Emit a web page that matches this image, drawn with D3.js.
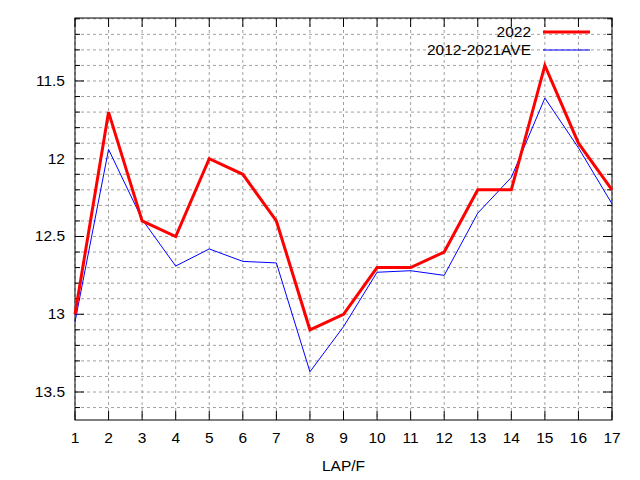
<!DOCTYPE html><html><head><script src="https://cdn.jsdelivr.net/npm/d3@7"></script>
<style>body{margin:0;background:#fff}</style></head><body><svg id="c" width="640" height="480"></svg>
<script>
const laps=[1,2,3,4,5,6,7,8,9,10,11,12,13,14,15,16,17];
const s2022=[13.0,11.7,12.4,12.5,12.0,12.1,12.4,13.1,13.0,12.7,12.7,12.6,12.2,12.2,11.4,11.9,12.2];
const sAve=[13.05,11.94,12.39,12.69,12.58,12.66,12.67,13.37,13.08,12.73,12.72,12.75,12.35,12.12,11.61,11.93,12.29];
const yTicks=[11.5,12,12.5,13,13.5];
const svg=d3.select("#c"),L=75,R=612,T=18,B=420;
const x=d3.scaleLinear().domain([1,17]).range([L,R]);
const y=d3.scaleLinear().domain([11.095,13.68]).range([T,B]);
const font="Liberation Sans, Arial, sans-serif",fs=15.5;
const minor=d3.range(111,137).map(v=>v/10);
const g=svg.append("g").attr("stroke","#a0a0a0").attr("stroke-dasharray","3,3").attr("stroke-width",1);
minor.forEach(v=>g.append("line").attr("x1",L).attr("x2",R).attr("y1",y(v)).attr("y2",y(v)));
laps.forEach(v=>g.append("line").attr("x1",x(v)).attr("x2",x(v)).attr("y1",T).attr("y2",B));
const t=svg.append("g").attr("stroke","#000");
minor.forEach(v=>{const len=yTicks.some(k=>Math.abs(k-v)<1e-6)?9:5;
 t.append("line").attr("x1",L).attr("x2",L+len).attr("y1",y(v)).attr("y2",y(v));
 t.append("line").attr("x1",R).attr("x2",R-len).attr("y1",y(v)).attr("y2",y(v));});
laps.forEach(v=>{t.append("line").attr("x1",x(v)).attr("x2",x(v)).attr("y1",B).attr("y2",B-9);
 t.append("line").attr("x1",x(v)).attr("x2",x(v)).attr("y1",T).attr("y2",T+9);});
svg.append("rect").attr("x",L).attr("y",T).attr("width",R-L).attr("height",B-T).attr("fill","none").attr("stroke","#000");
yTicks.forEach(v=>svg.append("text").attr("x",L-10).attr("y",y(v)+5).attr("text-anchor","end").attr("font-family",font).attr("font-size",fs).text(v));
laps.forEach(v=>svg.append("text").attr("x",x(v)).attr("y",443).attr("text-anchor","middle").attr("font-family",font).attr("font-size",fs).text(v));
svg.append("text").attr("x",(L+R)/2).attr("y",471).attr("text-anchor","middle").attr("font-family",font).attr("font-size",fs).text("LAP/F");
const line=d3.line().x((d,i)=>x(laps[i])).y(d=>y(d));
svg.append("path").datum(sAve).attr("d",line).attr("fill","none").attr("stroke","#0000ff").attr("stroke-width",1);
svg.append("path").datum(s2022).attr("d",line).attr("fill","none").attr("stroke","#ff0000").attr("stroke-width",3);
const leg=[["2022","#ff0000",3,32],["2012-2021AVE","#0000ff",1,50]];
leg.forEach(([n,c,w,yy])=>{svg.append("text").attr("x",531).attr("y",yy+5).attr("text-anchor","end").attr("font-family",font).attr("font-size",fs).text(n);
 svg.append("line").attr("x1",543).attr("x2",590).attr("y1",yy).attr("y2",yy).attr("stroke",c).attr("stroke-width",w);});
</script></body></html>
